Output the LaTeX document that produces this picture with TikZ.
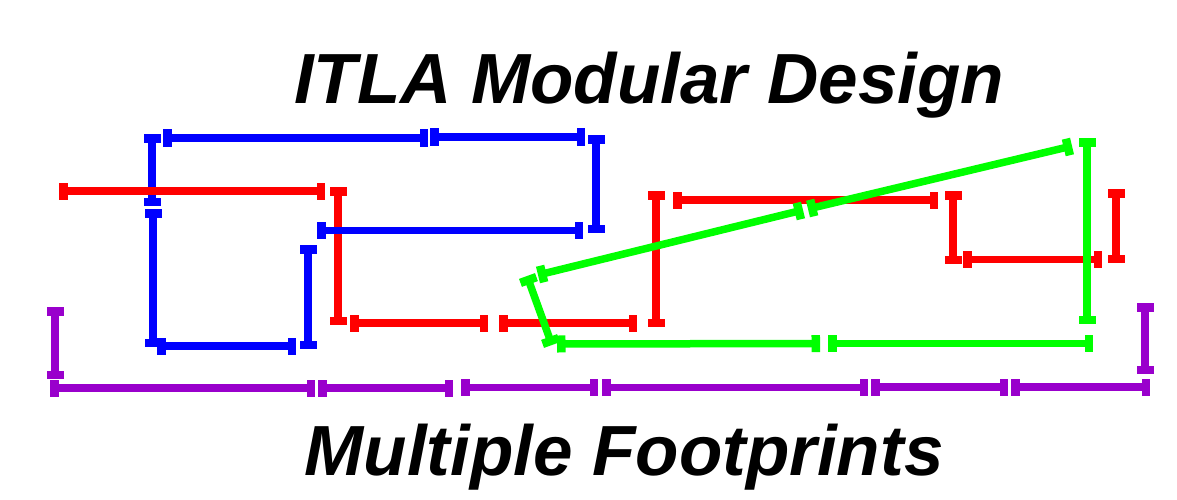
\documentclass[tikz,border=0pt]{standalone}
\usepackage{fontspec}
\setmainfont{Liberation Sans}
\usetikzlibrary{arrows.meta}
\definecolor{segblue}{RGB}{0,0,255}
\definecolor{segred}{RGB}{255,0,0}
\definecolor{seggreen}{RGB}{0,255,0}
\definecolor{segpurple}{RGB}{153,0,204}
\tikzset{
  seg/.style={line width=7.5pt, {Rectangle[length=8.5pt,width=17pt]}-{Rectangle[length=8.5pt,width=17pt]}},
  bseg/.style={seg, draw=segblue},
  rseg/.style={seg, draw=segred},
  gseg/.style={seg, draw=seggreen},
  pseg/.style={seg, draw=segpurple},
  bigtext/.style={anchor=base, inner sep=0pt, font=\fontsize{71}{78}\selectfont\bfseries\itshape}
}
\begin{document}
\begin{tikzpicture}[x=1pt,y=-1pt]
\useasboundingbox (0,0) rectangle (1177,500);
% titles
\node[bigtext] (title) at (649,103) {ITLA Modular Design};
\node[bigtext] (subtitle) at (624,475) {Multiple Footprints};
% blue (first)
\draw[bseg] (152,134) -- (152,206);
% red
\draw[rseg] (59,191) -- (325,191);
\draw[rseg] (338,187) -- (338,325);
\draw[rseg] (350,323) -- (488,323);
\draw[rseg] (499,323) -- (637,323);
\draw[rseg] (656,191) -- (656,327);
\draw[rseg] (673,200) -- (938,200);
\draw[rseg] (953,191) -- (953,264);
\draw[rseg] (963,259.5) -- (1102,259.5);
\draw[rseg] (1116,189) -- (1116,263);
% blue (rest)
\draw[bseg] (153,209) -- (153,347);
\draw[bseg] (157,346) -- (296,346);
\draw[bseg] (308,245) -- (308,349);
\draw[bseg] (163,138) -- (428,138);
\draw[bseg] (430,137) -- (585,137);
\draw[bseg] (596,135) -- (596,233);
\draw[bseg] (317,230.5) -- (583,230.5);
% green
\draw[gseg] (538,275) -- (803,210);
\draw[gseg] (808,209) -- (1072,146);
\draw[gseg] (527,276) -- (552,345);
\draw[gseg] (557,344) -- (820,343.5);
\draw[gseg] (828,343.5) -- (1093,343.5);
\draw[gseg] (1087,138) -- (1087,324);
% purple
\draw[pseg] (55,307) -- (55,379);
\draw[pseg] (50,388) -- (315,388);
\draw[pseg] (318,388) -- (453,388);
\draw[pseg] (461,387.5) -- (598,387.5);
\draw[pseg] (602,387.5) -- (868,387.5);
\draw[pseg] (871,387) -- (1008,387);
\draw[pseg] (1011,387) -- (1150,387);
\draw[pseg] (1145,303) -- (1145,374);
\end{tikzpicture}
\end{document}
